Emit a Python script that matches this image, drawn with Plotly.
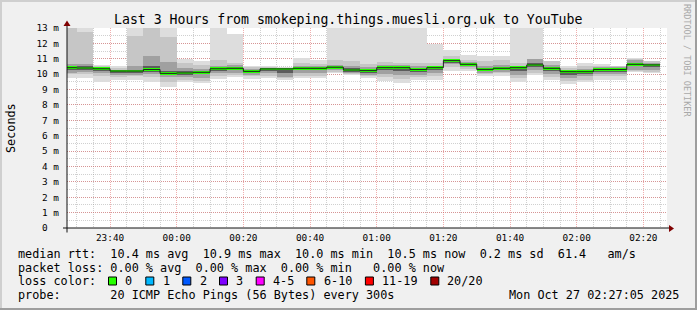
import plotly.graph_objects as go
import pandas as pd

# ---------------- data ----------------
bar_start = pd.date_range("2025-10-26 23:25", periods=36, freq="5min")
step_ms = 300000
view_start = "2025-10-26 23:27:05"
view_end = "2025-10-27 02:27:05"

rtt_max = [13.2, 13.2, 10.6, 10.5, 13.05, 13.2, 13.0, 11.0, 10.84, 13.2, 12.63, 10.51,
           10.5, 10.45, 11.04, 10.93, 13.2, 13.2, 13.2, 13.2, 13.2, 13.2, 11.93, 11.58,
           11.27, 11.2, 11.2, 13.2, 13.2, 10.88, 10.51, 10.7, 10.67, 10.51, 11.06, 10.88]
rtt_p90 = [13.2, 12.73, 10.5, 10.4, 12.5, 13.1, 12.4, 10.7, 10.6, 10.9, 10.75, 10.45,
           10.45, 10.42, 10.7, 10.65, 10.9, 10.85, 10.67, 10.8, 10.75, 10.7, 10.7, 11.2,
           10.95, 10.88, 10.9, 10.7, 11.0, 10.88, 10.4, 10.5, 10.55, 10.5, 11.0, 10.85]
rtt_p75 = [10.65, 10.65, 10.45, 10.3, 10.55, 11.2, 10.77, 10.4, 10.35, 10.55, 10.6, 10.35,
           10.42, 10.4, 10.5, 10.5, 10.6, 10.5, 10.45, 10.6, 10.6, 10.5, 10.55, 10.95,
           10.8, 10.55, 10.6, 10.55, 11.0, 10.6, 10.3, 10.35, 10.45, 10.45, 10.9, 10.75]
rtt_p60 = [10.5, 10.5, 10.4, 10.25, 10.3, 10.5, 10.2, 10.2, 10.2, 10.45, 10.47, 10.25,
           10.38, 10.37, 10.45, 10.45, 10.52, 10.37, 10.32, 10.5, 10.5, 10.38, 10.48, 10.92,
           10.7, 10.4, 10.45, 10.48, 10.75, 10.45, 10.22, 10.25, 10.37, 10.38, 10.75, 10.68]
rtt_median = [10.42, 10.4, 10.35, 10.2, 10.2, 10.3, 10.05, 10.08, 10.12, 10.35, 10.38, 10.18,
              10.34, 10.34, 10.38, 10.38, 10.45, 10.27, 10.23, 10.42, 10.42, 10.3, 10.42, 10.88,
              10.64, 10.31, 10.38, 10.42, 10.6, 10.38, 10.16, 10.16, 10.3, 10.3, 10.64, 10.6]
rtt_p40 = [10.3, 10.3, 10.2, 10.1, 10.1, 10.15, 9.95, 9.95, 10.0, 10.2, 10.25, 10.05,
           10.2, 10.1, 10.25, 10.25, 10.35, 10.17, 10.1, 10.25, 10.2, 10.15, 10.25, 10.75,
           10.55, 10.2, 10.25, 10.2, 10.45, 10.2, 9.95, 10.0, 10.15, 10.15, 10.5, 10.45]
rtt_p25 = [10.1, 10.15, 10.05, 9.95, 9.95, 10.0, 9.8, 9.8, 9.75, 10.05, 10.1, 9.95,
           10.05, 9.8, 10.1, 10.1, 10.25, 10.1, 9.95, 10.0, 9.95, 9.95, 10.05, 10.67,
           10.45, 10.1, 10.15, 9.95, 10.3, 10.0, 9.75, 9.85, 10.0, 10.0, 10.3, 10.25]
rtt_p10 = [10.0, 10.0, 9.85, 9.8, 9.85, 9.8, 9.5, 9.65, 9.57, 9.9, 9.95, 9.85,
           9.9, 9.72, 9.9, 9.9, 10.15, 10.02, 9.85, 9.8, 9.7, 9.8, 9.85, 10.45,
           10.35, 10.0, 10.05, 9.75, 10.1, 9.8, 9.55, 9.65, 9.85, 9.85, 10.2, 10.15]
rtt_min = [9.75, 9.75, 9.5, 9.62, 9.65, 9.47, 9.14, 9.47, 9.4, 9.7, 9.79, 9.69,
           9.75, 9.65, 9.75, 9.75, 10.05, 9.97, 9.75, 9.57, 9.4, 9.65, 9.65, 10.23,
           10.23, 9.9, 9.85, 9.51, 9.95, 9.62, 9.36, 9.47, 9.65, 9.65, 10.12, 10.1]

y_tick_vals = list(range(0, 14))
y_tick_text = ["0\u00a0\u00a0"] + [f"{v} m" for v in range(1, 14)]

title_text = "Last 3 Hours from smokeping.things.muesli.org.uk to YouTube"
legend_lines = [
    "median rtt:  10.4 ms avg  10.9 ms max  10.0 ms min  10.5 ms now  0.2 ms sd  61.4   am/s",
    "packet loss: 0.00 % avg  0.00 % max  0.00 % min   0.00 % now",
    "loss color:",
    "probe:       20 ICMP Echo Pings (56 Bytes) every 300s",
]
loss_labels = ["0", "1", "2", "3", "4-5", "6-10", "11-19", "20/20"]
loss_colors = ["#26ff00", "#00b8ff", "#0059ff", "#7e00ff", "#ff00ff", "#ff5500", "#ff0000", "#a10000"]
loss_box_x = [108.5, 145.8, 182.8, 219.5, 256.2, 306.8, 365.4, 430.8]
loss_text_x = [123.3, 160.7, 197.7, 234.3, 270.7, 321.7, 380.0, 445.3]
date_text = "Mon Oct 27 02:27:05 2025"

# ---------------- layout helpers ----------------
FW, FH = 697, 310
L, T, W, H = 67, 28, 600, 200
MONO = "DejaVu Sans Mono"


def px(x):
    return (x - L) / W


def py(y):
    return (T + H - y) / H


def nb(s):
    return s.replace(" ", "\u00a0")


fig = go.Figure()

layers = [
    (rtt_min, rtt_max, "#dddddd"),
    (rtt_p10, rtt_p90, "#c6c6c6"),
    (rtt_p25, rtt_p75, "#a0a0a0"),
    (rtt_p40, rtt_p60, "#5c5c5c"),
]
for lo, hi, col in layers:
    fig.add_trace(go.Bar(
        x=bar_start, y=[h - l for l, h in zip(lo, hi)], base=lo,
        width=step_ms, offset=0, marker=dict(color=col, line_width=0),
        hoverinfo="skip", showlegend=False))

# dark median step line
line_x = list(bar_start) + [bar_start[-1] + pd.Timedelta(minutes=5)]
line_y = rtt_median + [rtt_median[-1]]
fig.add_trace(go.Scatter(x=line_x, y=line_y, mode="lines", line_shape="hv",
                         line=dict(color="#202020", width=1),
                         hoverinfo="skip", showlegend=False))

# green median band (loss colour 0)
band = 0.17
fig.add_trace(go.Bar(
    x=bar_start, y=[band] * len(rtt_median), base=[m - band / 2 for m in rtt_median],
    width=step_ms, offset=0, marker=dict(color=loss_colors[0], line_width=0),
    hoverinfo="skip", showlegend=False))

grid_minor = "rgba(143,143,143,0.42)"
grid_major = "rgba(222,80,80,0.46)"

fig.update_layout(
    width=FW, height=FH,
    margin=dict(l=L, r=FW - L - W, t=T, b=FH - T - H, pad=0),
    paper_bgcolor="#f0f0f0", plot_bgcolor="#ffffff",
    barmode="overlay", bargap=0, showlegend=False, hovermode=False,
    font=dict(family=MONO, color="#000000"),
    xaxis=dict(
        type="date", range=[view_start, view_end],
        tick0="2025-10-26 23:40", dtick=1200000, tickformat="%H:%M",
        showgrid=True, gridcolor=grid_major, griddash="1px,1px", gridwidth=1,
        minor=dict(dtick=step_ms, showgrid=True, gridcolor=grid_minor,
                   griddash="1px,1px", gridwidth=1),
        ticks="", showline=False, zeroline=False,
        tickfont=dict(family=MONO, size=9.4, color="#000000"),
        ticklabelstandoff=3,
    ),
    yaxis=dict(
        range=[0, 13], tickmode="array", tickvals=y_tick_vals, ticktext=y_tick_text,
        showgrid=True, gridcolor=grid_major, griddash="1px,1px", gridwidth=1,
        minor=dict(dtick=0.5, showgrid=True, gridcolor=grid_minor,
                   griddash="1px,1px", gridwidth=1),
        ticks="", showline=False, zeroline=False,
        tickfont=dict(family=MONO, size=9.4, color="#000000"),
        ticklabelstandoff=7,
    ),
)

shapes = []
# 3D frame
shapes.append(dict(type="line", xref="paper", yref="paper", x0=px(0), x1=px(FW), y0=py(1), y1=py(1),
                   line=dict(color="#cfcfcf", width=2)))
shapes.append(dict(type="line", xref="paper", yref="paper", x0=px(1), x1=px(1), y0=py(0), y1=py(FH),
                   line=dict(color="#cfcfcf", width=2)))
shapes.append(dict(type="line", xref="paper", yref="paper", x0=px(0), x1=px(FW), y0=py(FH - 1), y1=py(FH - 1),
                   line=dict(color="#9e9e9e", width=2)))
shapes.append(dict(type="line", xref="paper", yref="paper", x0=px(FW - 1), x1=px(FW - 1), y0=py(0), y1=py(FH),
                   line=dict(color="#9e9e9e", width=2)))
# axes
shapes.append(dict(type="line", xref="paper", yref="paper", x0=px(63), x1=px(671), y0=0, y1=0,
                   line=dict(color="#101010", width=1)))
shapes.append(dict(type="line", xref="paper", yref="paper", x0=0, x1=0, y0=py(232.5), y1=py(24),
                   line=dict(color="#101010", width=1)))
# arrows
shapes.append(dict(type="path", xref="paper", yref="paper",
                   path=f"M {px(669)} {py(225)} L {px(674)} {py(228.5)} L {px(669)} {py(232)} Z",
                   fillcolor="#7f0000", line=dict(color="#7f0000", width=0)))
shapes.append(dict(type="path", xref="paper", yref="paper",
                   path=f"M {px(63.5)} {py(26)} L {px(67)} {py(20.5)} L {px(70.5)} {py(26)} Z",
                   fillcolor="#7f0000", line=dict(color="#7f0000", width=0)))
# loss colour boxes
for bx, col in zip(loss_box_x, loss_colors):
    shapes.append(dict(type="rect", xref="paper", yref="paper",
                       x0=px(bx), x1=px(bx + 8), y0=py(285), y1=py(277),
                       fillcolor=col, line=dict(color="#000000", width=1)))
fig.update_layout(shapes=shapes)

ann = []
ann.append(dict(text=nb(title_text), xref="paper", yref="paper", x=px(348), y=py(19),
                xanchor="center", yanchor="middle", showarrow=False,
                font=dict(family=MONO, size=13.2, color="#000000")))
ann.append(dict(text="Seconds", xref="paper", yref="paper", x=px(11), y=py(128),
                xanchor="center", yanchor="middle", showarrow=False, textangle=-90,
                font=dict(family=MONO, size=11.8, color="#000000")))
ann.append(dict(text=nb("RRDTOOL / TOBI OETIKER"), xref="paper", yref="paper", x=px(687), y=py(60),
                xanchor="center", yanchor="middle", showarrow=False, textangle=90,
                font=dict(family=MONO, size=8.5, color="#a8a8a8")))
line_y_px = [254.3, 268.0, 281.3, 295.3]
for txt, yy in zip(legend_lines, line_y_px):
    ann.append(dict(text=nb(txt), xref="paper", yref="paper", x=px(16), y=py(yy),
                    xanchor="left", yanchor="middle", showarrow=False,
                    font=dict(family=MONO, size=11.8, color="#000000")))
for tx, lab in zip(loss_text_x, loss_labels):
    ann.append(dict(text=lab, xref="paper", yref="paper", x=px(tx), y=py(281.3),
                    xanchor="left", yanchor="middle", showarrow=False,
                    font=dict(family=MONO, size=11.8, color="#000000")))
ann.append(dict(text=nb(date_text), xref="paper", yref="paper", x=px(680.5), y=py(295.3),
                xanchor="right", yanchor="middle", showarrow=False,
                font=dict(family=MONO, size=11.8, color="#000000")))
fig.update_layout(annotations=ann)

fig.write_html("out.html")
